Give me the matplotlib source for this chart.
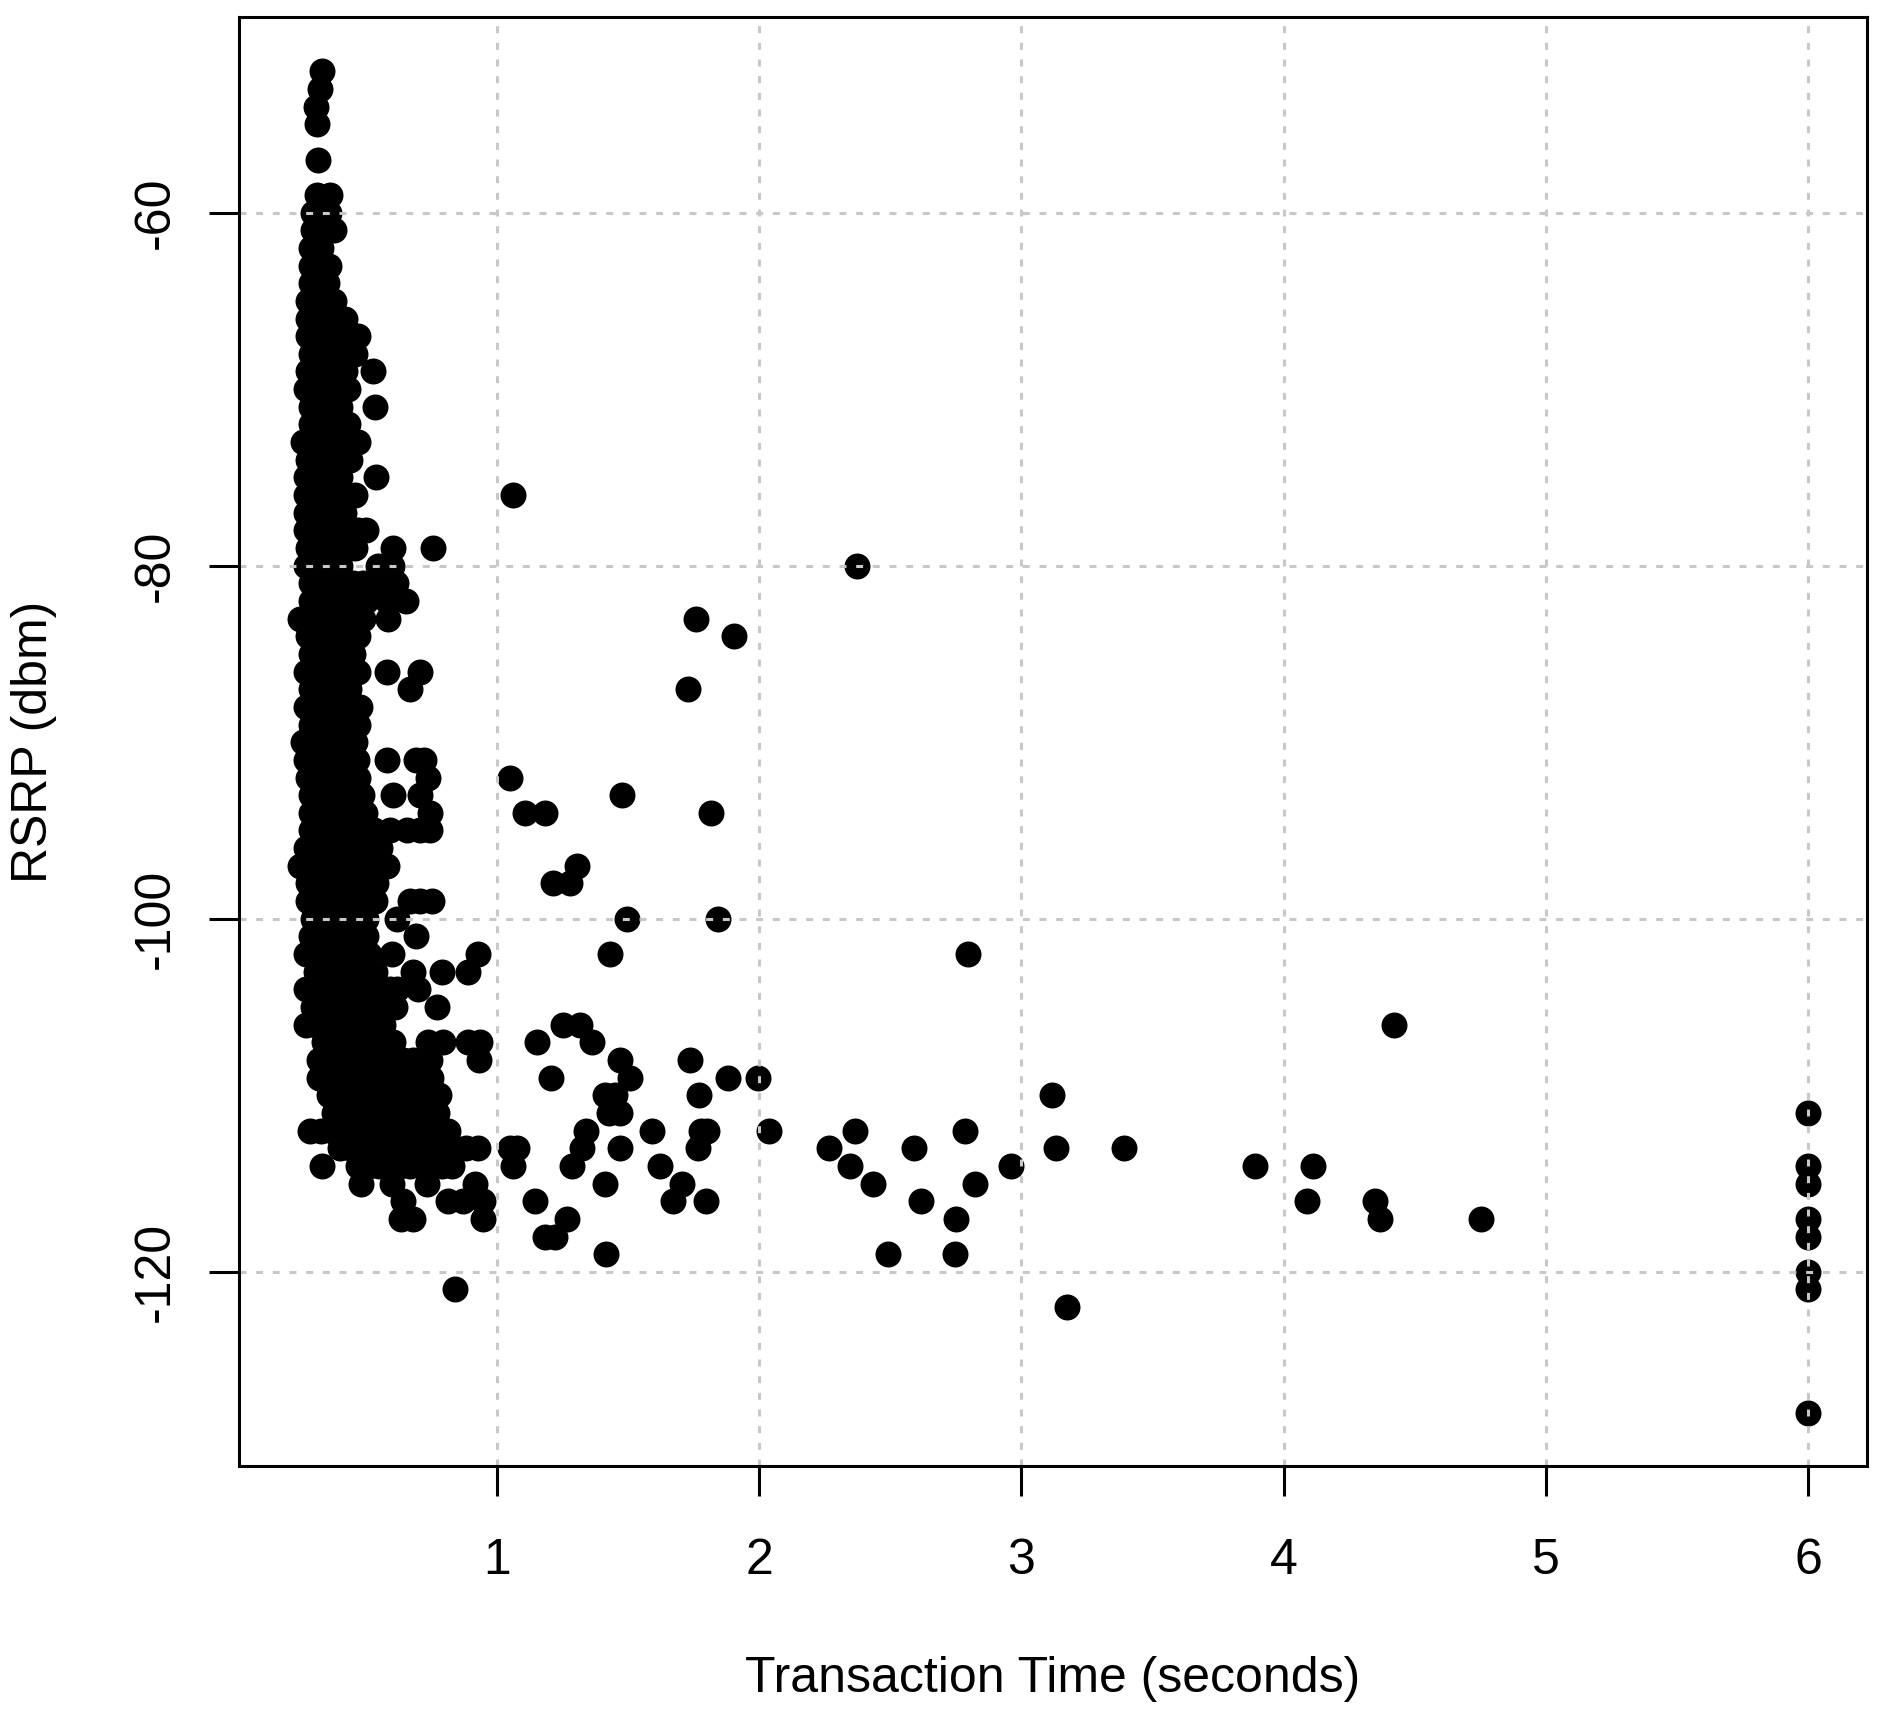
import matplotlib
matplotlib.use("Agg")
import matplotlib.pyplot as plt

plt.rcParams['font.family'] = ['Liberation Sans', 'DejaVu Sans']

# RSRP level (dBm) and the transaction times (s) observed at that level
rsrp_levels = [-52, -53, -54, -55, -57, -59, -60, -61, -62, -63, -64, -65, -66, -67,
               -68, -69, -70, -71, -72, -73, -74, -75, -76, -77, -78, -79, -80, -81,
               -82, -83, -84, -85, -86, -87, -88, -89, -90, -91, -92, -93, -94, -95,
               -96, -97, -98, -99, -100, -101, -102, -103, -104, -105, -106, -107,
               -108, -109, -110, -111, -112, -113, -114, -115, -116, -117, -118,
               -119, -120, -121, -122, -128]

times_at_level = [
    [0.331],
    [0.325],
    [0.31],
    [0.315],
    [0.318],
    [0.312, 0.363],
    [0.30, 0.33, 0.36],
    [0.30, 0.34, 0.38],
    [0.29, 0.33],
    [0.29, 0.33, 0.36],
    [0.29, 0.32, 0.35],
    [0.28, 0.32, 0.35, 0.38],
    [0.28, 0.32, 0.36, 0.39, 0.42],
    [0.28, 0.32, 0.36, 0.40, 0.44, 0.47],
    [0.29, 0.33, 0.37, 0.41, 0.46],
    [0.28, 0.32, 0.36, 0.40, 0.42, 0.527],
    [0.27, 0.31, 0.35, 0.39, 0.43],
    [0.29, 0.33, 0.37, 0.40, 0.535],
    [0.29, 0.33, 0.37, 0.41, 0.43],
    [0.26, 0.30, 0.34, 0.38, 0.42, 0.47],
    [0.28, 0.32, 0.36, 0.40, 0.44],
    [0.27, 0.31, 0.35, 0.39, 0.40, 0.538],
    [0.27, 0.31, 0.35, 0.39, 0.43, 0.46, 1.061],
    [0.27, 0.31, 0.35, 0.38, 0.415],
    [0.27, 0.31, 0.35, 0.39, 0.43, 0.47, 0.50],
    [0.28, 0.32, 0.36, 0.40, 0.44, 0.46, 0.605, 0.755],
    [0.27, 0.31, 0.35, 0.39, 0.40, 0.547, 0.60, 2.372],
    [0.29, 0.33, 0.37, 0.41, 0.45, 0.49, 0.53, 0.615],
    [0.29, 0.33, 0.37, 0.41, 0.45, 0.50, 0.58, 0.653],
    [0.25, 0.29, 0.33, 0.37, 0.41, 0.45, 0.49, 0.585, 1.759],
    [0.28, 0.32, 0.36, 0.40, 0.44, 0.47, 1.904],
    [0.29, 0.33, 0.37, 0.41, 0.45],
    [0.27, 0.31, 0.35, 0.39, 0.43, 0.47, 0.579, 0.706],
    [0.29, 0.33, 0.37, 0.41, 0.434, 0.668, 1.730],
    [0.27, 0.31, 0.35, 0.39, 0.43, 0.478],
    [0.29, 0.33, 0.37, 0.41, 0.45, 0.47],
    [0.26, 0.30, 0.34, 0.38, 0.42, 0.46],
    [0.27, 0.31, 0.35, 0.39, 0.43, 0.466, 0.579, 0.69, 0.72],
    [0.28, 0.32, 0.36, 0.40, 0.44, 0.47, 0.738, 1.05],
    [0.29, 0.33, 0.37, 0.41, 0.45, 0.485, 0.605, 0.706, 1.475],
    [0.29, 0.33, 0.37, 0.41, 0.45, 0.497, 0.745, 1.107, 1.183, 1.816],
    [0.29, 0.33, 0.37, 0.41, 0.45, 0.49, 0.53, 0.59, 0.655, 0.706, 0.745],
    [0.27, 0.31, 0.35, 0.39, 0.43, 0.47, 0.51, 0.555],
    [0.25, 0.29, 0.33, 0.37, 0.41, 0.45, 0.49, 0.53, 0.58, 1.304],
    [0.28, 0.32, 0.36, 0.40, 0.44, 0.48, 0.51, 0.54, 1.215, 1.278],
    [0.28, 0.32, 0.36, 0.40, 0.44, 0.48, 0.535, 0.668, 0.706, 0.751],
    [0.30, 0.34, 0.38, 0.42, 0.46, 0.50, 0.617, 1.495, 1.842],
    [0.29, 0.33, 0.37, 0.41, 0.45, 0.50, 0.691],
    [0.27, 0.31, 0.35, 0.39, 0.43, 0.47, 0.51, 0.598, 0.929, 1.431, 2.795],
    [0.31, 0.35, 0.39, 0.43, 0.47, 0.50, 0.535, 0.681, 0.789, 0.891],
    [0.27, 0.31, 0.35, 0.39, 0.43, 0.47, 0.51, 0.55, 0.59, 0.62, 0.70],
    [0.30, 0.34, 0.38, 0.42, 0.46, 0.50, 0.54, 0.58, 0.61, 0.77],
    [0.27, 0.31, 0.35, 0.39, 0.43, 0.47, 0.51, 0.55, 0.567, 1.253, 1.317, 4.42],
    [0.34, 0.38, 0.42, 0.46, 0.50, 0.54, 0.58, 0.605, 0.738, 0.795, 0.891, 0.935,
     1.151, 1.361],
    [0.32, 0.36, 0.40, 0.44, 0.48, 0.52, 0.56, 0.60, 0.64, 0.68, 0.72, 0.745, 0.933,
     1.469, 1.736],
    [0.32, 0.36, 0.40, 0.44, 0.48, 0.52, 0.56, 0.60, 0.64, 0.68, 0.72, 0.75, 1.205,
     1.507, 1.88, 1.994],
    [0.36, 0.40, 0.44, 0.48, 0.52, 0.56, 0.60, 0.64, 0.68, 0.72, 0.76, 0.777, 1.412,
     1.45, 1.772, 3.115],
    [0.38, 0.42, 0.46, 0.50, 0.54, 0.58, 0.62, 0.66, 0.70, 0.74, 0.77, 1.428, 1.469,
     6.0],
    [0.287, 0.33, 0.37, 0.41, 0.45, 0.49, 0.53, 0.57, 0.61, 0.65, 0.69, 0.73, 0.77,
     0.815, 1.339, 1.59, 1.777, 1.802, 2.039, 2.365, 2.785],
    [0.40, 0.44, 0.48, 0.52, 0.56, 0.60, 0.64, 0.68, 0.72, 0.76, 0.84, 0.88, 0.929,
     1.05, 1.075, 1.323, 1.469, 1.765, 2.267, 2.59, 3.133, 3.39],
    [0.331, 0.47, 0.51, 0.55, 0.59, 0.63, 0.67, 0.71, 0.75, 0.79, 0.827, 1.06, 1.285,
     1.622, 2.346, 2.96, 3.892, 4.113, 6.0],
    [0.48, 0.60, 0.732, 0.916, 1.412, 1.704, 2.433, 2.822, 6.0],
    [0.643, 0.814, 0.872, 0.948, 1.145, 1.672, 1.797, 2.616, 4.09, 4.35],
    [0.634, 0.681, 0.948, 1.266, 2.749, 4.368, 4.752, 6.0],
    [1.183, 1.221, 6.0],
    [1.416, 2.49, 2.745],
    [6.0],
    [0.84, 6.0],
    [3.174],
    [6.0],
]

x_ticks = [1, 2, 3, 4, 5, 6]
y_ticks = [-60, -80, -100, -120]
x_label = "Transaction Time (seconds)"
y_label = "RSRP (dbm)"

xs, ys = [], []
for level, times in zip(rsrp_levels, times_at_level):
    for t in times:
        xs.append(t)
        ys.append(level)

W, H = 1880, 1723
fig = plt.figure(figsize=(W / 100, H / 100), dpi=100)
left, right, top, bottom = 239, 1867, 17, 1466
ax = fig.add_axes([left / W, 1 - bottom / H, (right - left) / W, (bottom - top) / H])

ax.scatter(xs, ys, s=350, c='black', linewidths=0, zorder=2)

ax.set_xlim(0.016, 6.225)
ax.set_ylim(-131.0, -48.92)

grid_lw = 2.2
for xt in x_ticks:
    l = ax.axvline(xt, color='#c8c8c8', lw=grid_lw, zorder=3)
    l.set_dashes([5 / grid_lw, 7 / grid_lw])
for yt in y_ticks:
    l = ax.axhline(yt, color='#c8c8c8', lw=grid_lw, zorder=3)
    l.set_dashes([5 / grid_lw, 7 / grid_lw])

ax.set_xticks(x_ticks)
ax.set_xticklabels([str(v) for v in x_ticks])
ax.set_yticks(y_ticks)
ax.set_yticklabels([str(v) for v in y_ticks], rotation=90, va='center')

ax.tick_params(axis='both', direction='out', length=21.6, width=2.2,
               labelsize=36, colors='black')
ax.tick_params(axis='y', pad=22)
ax.tick_params(axis='x', pad=30)
for sp in ax.spines.values():
    sp.set_linewidth(2.2)
    sp.set_zorder(4)

ax.set_xlabel(x_label, fontsize=36, va='center')
ax.xaxis.set_label_coords(0.5, -(1679 - bottom) / (bottom - top))
ax.set_ylabel(y_label, fontsize=36, va='center')
ax.yaxis.set_label_coords((34 - left) / (right - left), 0.5)

fig.savefig("out.png", dpi=100, facecolor='white')
